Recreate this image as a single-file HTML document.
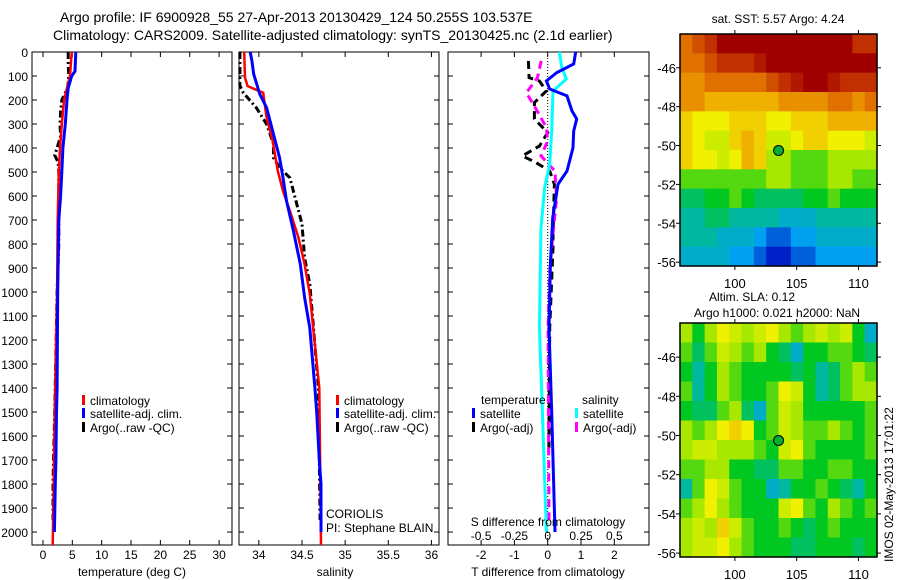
<!DOCTYPE html>
<html><head><meta charset="utf-8"><style>
html,body{margin:0;padding:0;background:#fff;}
svg{display:block;font-family:"Liberation Sans",sans-serif;}
</style></head><body>
<svg id="fig" width="900" height="580" viewBox="0 0 900 580" xmlns="http://www.w3.org/2000/svg">
<text x="60" y="22" font-size="14">Argo profile: IF 6900928_55 27-Apr-2013 20130429_124 50.255S 103.537E</text>
<text x="53" y="40" font-size="14">Climatology: CARS2009. Satellite-adjusted climatology: synTS_20130425.nc (2.1d earlier)</text>
<g id="g"></g>
</svg>
<script>
// ---------- data ----------
const depthTicks=[0,100,200,300,400,500,600,700,800,900,1000,1100,1200,1300,1400,1500,1600,1700,1800,1900,2000];
const tempTicks=[0,5,10,15,20,25,30];
const salTicks=[34,34.5,35,35.5,36];
const tdiffTicks=[-2,-1,0,1,2];
const sdiffTicks=[-0.5,-0.25,0,0.25,0.5];
const sdiffTickLabels=["-0.5","-0.25","0","0.25","0.5"];

const climTDepth=[0,100,150,200,300,400,500,700,1000,1500,1700,2054];
const climT=[4.9,4.6,4.1,3.6,3.2,2.9,2.7,2.5,2.4,2.0,1.9,1.65];
const satTDepth=[0,80,100,150,200,300,400,500,600,700,1000,1400,1500,1700,1800,2000];
const satT=[5.6,5.45,4.9,4.3,4.1,3.8,3.4,3.2,3.0,2.7,2.5,2.4,2.3,2.2,2.1,1.95];
const argoTDepth=[0,50,100,150,180,200,250,300,350,400,430,460,500,600,800,1000,1500,1800,1950];
const argoT=[4.3,4.3,4.4,4.2,3.6,3.2,3.0,2.9,3.0,2.4,2.0,2.6,2.7,2.7,2.7,2.4,2.0,1.7,1.7];

const climSDepth=[0,107,142,170,274,371,496,579,662,774,884,1009,1150,1400,1700,2054];
const climS=[33.83,33.84,33.87,34.05,34.09,34.16,34.22,34.28,34.36,34.46,34.53,34.59,34.63,34.70,34.71,34.72];
const satSDepth=[0,37,92,175,232,316,441,524,620,745,884,1023,1150,1400,1500,1700,1800,2000];
const satS=[33.9,33.92,33.94,34.01,34.09,34.15,34.24,34.28,34.32,34.40,34.48,34.53,34.59,34.65,34.67,34.70,34.72,34.72];
const argoSDepth=[0,140,170,232,301,383,441,482,524,634,717,857,967,1134,1400,1950];
const argoS=[33.78,33.78,33.82,33.97,34.09,34.17,34.17,34.24,34.36,34.44,34.50,34.53,34.59,34.63,34.69,34.71];

const dTSatDepth=[0,50,86,121,154,183,246,279,329,399,496,551,691,884,1150,1500,2000];
const dTSat=[0.84,0.78,0.27,-0.04,0.06,0.58,0.73,0.87,0.78,0.76,0.58,0.31,0.15,0.08,0.04,0.12,0.22];
const dSSatDepth=[0,65,113,162,329,467,566,733,1150,1500,2000];
const dSSat=[0.088,0.106,0.14,0.04,0.03,0.015,-0.023,-0.05,-0.062,-0.04,-0.01];
const dTArgoDepth=[37,107,121,162,211,279,336,392,433,461,496,551,758,815,1150,1650];
const dTArgo=[-0.58,-0.56,-0.25,-0.04,-0.4,-0.4,0,-0.25,-0.76,-0.35,0.06,0.2,0.16,0.16,0.06,0.04];
const dSArgoDepth=[37,107,170,237,315,371,433,496,607,758,912,1150,1950];
const dSArgo=[-0.049,-0.077,-0.16,-0.088,-0.01,0,-0.05,0.054,0.067,0.04,0.015,0.003,0.01];

const lonTicks=[100,105,110];
const latTicks=[-46,-48,-50,-52,-54,-56];
const argoLon=103.537, argoLat=-50.255;
// SST field (colour index 0..10), rows north->south, 16 cols west->east
const sstField=[
[8,8.5,9,10,10,10,10,10,10,10,10,10,10,10,9,9],
[8,8,8.5,9,9,9,9.5,10,10,10,10,10,10,10,10,10],
[7.5,7.5,8,8,8,8,8,8.5,9,9.5,10,10,9.5,9,9,9],
[7.5,7.5,7,7,7,7,7,7,7.5,7.5,7.5,7.5,8,8,7.5,8],
[6.5,6,6,6,6.5,6.5,6.5,6,6,6.5,6.5,6.5,7,7,7,7],
[6.5,6,5.5,5.5,6.5,7,6.5,5.5,5.5,6,6.5,6.5,6,6,6,5.5],
[6.5,6,6,5.5,6,7,6.5,5,5,4.5,4.5,4.5,5,5,5,5],
[4.5,4.5,4.5,4.5,4.5,4.5,4.5,5,5,4.5,4.5,4.5,5,5,4.5,4.5],
[3.5,3.5,4,4,4.5,4,3.5,3.5,3.5,3.5,4,4,4.5,4,4,4],
[3,3,3.5,3.5,3,3,3,3,2.5,2.5,2.5,3,3,3,3,3],
[3,3,3,2.5,2.5,2.5,2,1.5,1.5,2,2,2.5,2.5,2.5,2.5,2.5],
[2.5,2.5,2.5,2.5,2,2,1.5,1,1,1.5,1.5,2,2,2,2,2]];
const slaField=[
[5,4,5,6,5.5,5,5.5,6,5,4.5,5,5.5,5,5.5,4,2.5],
[4.5,3.5,4.5,5.5,5,4.5,5,4,3.5,2.5,4,4,4.5,4.5,4,3.5],
[4,3,4,5,4.5,4,4,4,4,3.5,4,3,3.5,4.5,5,4.5],
[4.5,3,4,5,4.5,4,4,4.5,6,5.5,4,3,3.5,4.5,5,5],
[4,3.5,3.5,4.5,5,3.5,2.5,4.5,5.5,5,4,4,4,4,4,4.5],
[5,4.5,5,6,6.5,6,4,4.5,5.5,5,4.5,4.5,5,4.5,4,4.5],
[5,5.5,5.5,5,5,5,4.5,4,5.5,6,4.5,4,4,4,4,4.5],
[4.5,4.5,5,5,4,4,3.5,3.5,4.5,4.5,4,4,4.5,4.5,4,4],
[3,4.5,6,5.5,4.5,4,4,2.5,3,4,4,4.5,4,3.5,3,4],
[4.5,5,6,5,4.5,4,4,4,5.5,6,4.5,4,5,4.5,4,4.5],
[5,5.5,5,6.5,5.5,4.5,4,4,4.5,4,3.5,4,4.5,4,4,4],
[5,5.5,5.5,6,5,4.5,4,4,4,3.5,3.5,4,4,4,3.5,4]];
const cmapColors=["#000080","#0020c8","#00a0f0","#00b8a0","#00c820","#a8e800","#f0f000","#f0b000","#e07000","#c03000","#a00000"];

// ---------- helpers ----------
const NS="http://www.w3.org/2000/svg";
const G=document.getElementById('g');
function mk(tag,attrs,parent){const e=document.createElementNS(NS,tag);for(const k in attrs)e.setAttribute(k,attrs[k]);(parent||G).appendChild(e);return e;}
function txt(x,y,s,size,anchor,parent){const e=mk('text',{x:x,y:y,'font-size':size,'text-anchor':anchor||'start'},parent);e.textContent=s;return e;}

const PT=52, PB=545, DMAX=2054;
function yD(d){return PT+d*(PB-PT)/DMAX;}
function xT(t){return 32+(t+1.87)*5.87;}
function xS(s){return 239+(s-33.77)*86.3;}
function xDT(t){return 547.7+t*33.3;}
function xDS(s){return 547.7+s*133.2;}

function panel(x0,x1,name){
  const r=mk('rect',{x:x0,y:PT,width:x1-x0,height:PB-PT,fill:'none',stroke:'#000','stroke-width':1});
  
  
  depthTicks.forEach(d=>{
    mk('line',{x1:x0,x2:x0+5,y1:yD(d),y2:yD(d),stroke:'#000'});
    mk('line',{x1:x1-5,x2:x1,y1:yD(d),y2:yD(d),stroke:'#000'});
  });
}
function xticks(vals,fx){vals.forEach(v=>{const x=fx(v);mk('line',{x1:x,x2:x,y1:PT,y2:PT+5,stroke:'#000'});mk('line',{x1:x,x2:x,y1:PB-5,y2:PB,stroke:'#000'});});}
function line(ds,vs,fx,color,w,dash,name){
  const p=ds.map((d,i)=>fx(vs[i]).toFixed(1)+','+yD(d).toFixed(1)).join(' ');
  const a={points:p,fill:'none',stroke:color,'stroke-width':w};
  if(dash)a['stroke-dasharray']=dash;
  const e=mk('polyline',a);
  
  
}
function legItem(x,y,color,label,name){
  const g=mk('g',{});
  
  
  mk('rect',{x:x,y:y-10,width:3,height:10,fill:color},g);
  txt(x+8,y,label,12,'start',g);
}

// ---------- panel 1: temperature ----------
panel(32,232,'temperature-axes');
xticks(tempTicks,xT);
depthTicks.forEach(d=>{const e=txt(28,yD(d)+5,String(d),12,'end');});
tempTicks.forEach(t=>{const e=txt(xT(t),559,String(t),12,'middle');});
txt(132,576,'temperature (deg C)',12,'middle');
line(argoTDepth,argoT,xT,'#000',3,'7,3,2,3','argo-temp-line');
line(climTDepth,climT,xT,'#f00',2.5,null,'clim-temp-line');
line(satTDepth,satT,xT,'#00f',3,null,'sat-temp-line');
legItem(82,405,'#f00','climatology','legend-climatology');
legItem(82,418,'#00f','satellite-adj. clim.','legend-satellite-adj');
legItem(82,432,'#000','Argo(..raw -QC)','legend-argo');

// ---------- panel 2: salinity ----------
panel(239,439,'salinity-axes');
xticks(salTicks,xS);
salTicks.forEach(s=>{const e=txt(xS(s),559,String(s),12,'middle');});
txt(335,576,'salinity',12,'middle');
line(argoSDepth,argoS,xS,'#000',3,'7,3,2,3','argo-sal-line');
line(climSDepth,climS,xS,'#f00',2.5,null,'clim-sal-line');
line(satSDepth,satS,xS,'#00f',3,null,'sat-sal-line');
legItem(336,405,'#f00','climatology','legend-climatology-sal');
legItem(336,418,'#00f','satellite-adj. clim.','legend-satellite-adj-sal');
legItem(336,432,'#000','Argo(..raw -QC)','legend-argo-sal');
txt(326,518,'CORIOLIS',12,'start');
txt(326,532,'PI: Stephane BLAIN',12,'start');

// ---------- panel 3: differences ----------
panel(448,649,'difference-axes');
xticks(tdiffTicks,xDT);
mk('line',{x1:xDT(0),x2:xDT(0),y1:PT,y2:PB,stroke:'#000','stroke-width':1,'stroke-dasharray':'1,2'});
line(dTArgoDepth,dTArgo,xDT,'#000',3,'8,5','argo-tdiff-line');
line(dSArgoDepth,dSArgo,xDS,'#f0f',3,'8,5','argo-sdiff-line');
line(dSSatDepth,dSSat,xDS,'#0ff',3,null,'sat-sdiff-line');
line(dTSatDepth,dTSat,xDT,'#00f',3,null,'sat-tdiff-line');
txt(481,404,'temperature',12,'start');
txt(582,404,'salinity',12,'start');
legItem(472,418,'#00f','satellite','legend-tdiff-satellite');
legItem(472,432,'#000','Argo(-adj)','legend-tdiff-argo');
legItem(575,418,'#0ff','satellite','legend-sdiff-satellite');
legItem(575,432,'#f0f','Argo(-adj)','legend-sdiff-argo');
txt(548,526,'S difference from climatology',12,'middle');
sdiffTicks.forEach((s,i)=>{const e=txt(xDS(s),540,sdiffTickLabels[i],12,'middle');});
tdiffTicks.forEach(t=>{const e=txt(xDT(t),559,String(t),12,'middle');});
txt(548,576,'T difference from climatology',12,'middle');

// ---------- maps ----------
function cmap(v){v=Math.max(0,Math.min(10,v));const i=Math.min(9,Math.floor(v)),f=v-i;
  const a=cmapColors[i],b=cmapColors[i+1];
  const c=[1,3,5].map(k=>Math.round(parseInt(a.substr(k,2),16)*(1-f)+parseInt(b.substr(k,2),16)*f));
  return 'rgb('+c.join(',')+')';}
function drawMap(field,X0,X1,Y0,Y1,name){
  const lon0=95.56,lon1=111.5,lat0=-44.26,lat1=-56.2;
  const fx=l=>X0+(l-lon0)*(X1-X0)/(lon1-lon0);
  const fy=l=>Y0+(l-lat0)*(Y1-Y0)/(lat1-lat0);
  const rows=field.length,cols=field[0].length;
  const cw=(X1-X0)/cols,ch=(Y1-Y0)/rows;
  const g=mk('g',{});
  
  
  field.forEach((row,r)=>row.forEach((v,c)=>{
    const e=mk('rect',{x:(X0+c*cw).toFixed(2),y:(Y0+r*ch).toFixed(2),width:(cw+0.6).toFixed(2),height:(ch+0.6).toFixed(2),fill:cmap(v)},g);
    
    
  }));
  mk('rect',{x:X0,y:Y0,width:X1-X0,height:Y1-Y0,fill:'none',stroke:'#000','stroke-width':1.5});
  lonTicks.forEach(l=>{const x=fx(l);mk('line',{x1:x,x2:x,y1:Y0-4,y2:Y0,stroke:'#000'});mk('line',{x1:x,x2:x,y1:Y1,y2:Y1+4,stroke:'#000'});
    const e=txt(x,Y1+22,String(l),13,'middle');});
  latTicks.forEach(l=>{const y=fy(l);mk('line',{x1:X0-4,x2:X0,y1:y,y2:y,stroke:'#000'});mk('line',{x1:X1,x2:X1+4,y1:y,y2:y,stroke:'#000'});
    const e=txt(X0-4,y+5,String(l),13,'end');});
  const m=mk('circle',{cx:fx(argoLon),cy:fy(argoLat),r:5,fill:'#00b030',stroke:'#000','stroke-width':1});
  
  
}
drawMap(sstField,680,877,34,266,'sst-map');
drawMap(slaField,680,877,323,557,'sla-map');
txt(778,23,'sat. SST: 5.57 Argo: 4.24',12,'middle');
txt(752,301,'Altim. SLA: 0.12',12,'middle');
txt(777,317,'Argo h1000: 0.021 h2000: NaN',12,'middle');
const st=txt(0,0,'IMOS 02-May-2013 17:01:22',12,'start');
st.setAttribute('transform','translate(893,562) rotate(-90)');


</script>
</body></html>
